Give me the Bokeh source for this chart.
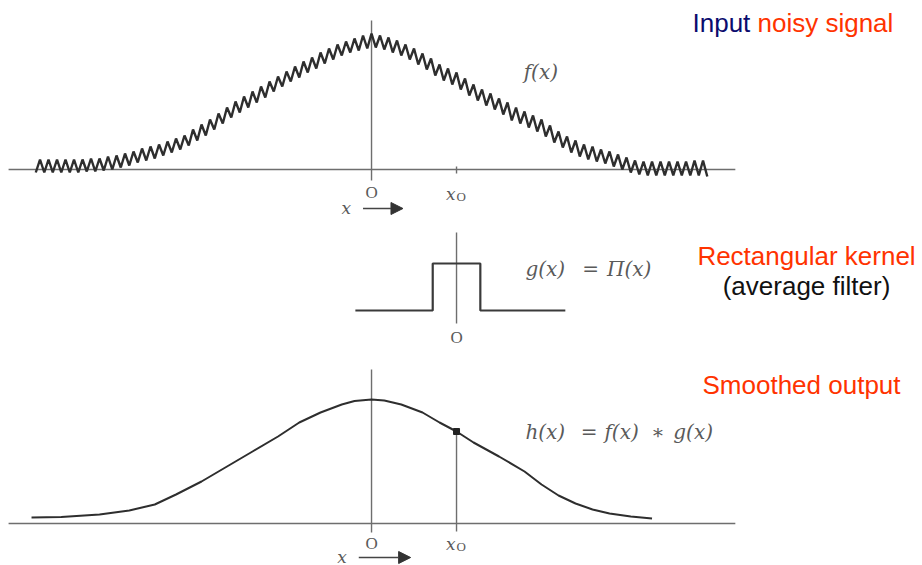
import numpy as np
from bokeh.plotting import figure
from bokeh.layouts import column
from bokeh.models import Range1d, Label, Arrow, NormalHead
from bokeh.embed import file_html
from bokeh.resources import INLINE

# ---------------- data ----------------
# Noisy input f(x): zigzag vertices (trough, peak, trough, ...) sampled evenly in x
f_x_start, f_x_end = -3.95, 3.95
f_noisy = [
    -3, 10, -3, 10, -3, 10, -3, 10, -3, 10, -3, 10, -2, 11, -2, 11, -1, 13, 0, 14,
    2, 16, 4, 18, 7, 21, 9, 23, 11, 25, 14, 28, 17, 31, 20, 34, 24, 40, 29, 45,
    34, 50, 40, 56, 46, 62, 52, 68, 57, 73, 62, 78, 67, 83, 72, 88, 78, 93, 83, 98,
    88, 103, 92, 108, 97, 112, 101, 117, 106, 121, 110, 125, 114, 128, 117, 131, 119, 134, 121, 136,
    122, 134, 120, 132, 117, 129, 114, 125, 110, 121, 105, 116, 100, 111, 94, 105, 89, 101, 85, 97,
    80, 91, 74, 85, 69, 80, 64, 76, 60, 71, 55, 67, 49, 62, 46, 58, 42, 54, 38, 50,
    33, 44, 27, 38, 22, 33, 17, 29, 13, 25, 10, 23, 8, 20, 6, 18, 3, 15, 0, 12,
    -3, 9, -5, 8, -6, 8, -6, 8, -6, 8, -6, 8, -6, 8, -6, 9, -6, 9, -7,
]

# Rectangular kernel g(x) = Pi(x), drawn with its flat tails
g_x = [-1.19, -0.28, -0.28, 0.28, 0.28, 1.28]
g_y = [0, 0, 47, 47, 0, 0]

# Smoothed output h(x) = f(x) * g(x)
h_x = [-4.0, -3.65, -3.2, -2.85, -2.55, -2.3, -2.0, -1.7, -1.4, -1.1,
       -0.85, -0.6, -0.35, -0.2, 0.0, 0.15, 0.35, 0.6, 0.8, 1.0,
       1.2, 1.5, 1.8, 2.0, 2.2, 2.4, 2.6, 2.8, 3.05, 3.3]
h_y = [6, 6.5, 9, 13, 19, 29, 42, 57, 72, 87,
       101, 111, 119, 122.5, 124, 123, 119, 111, 101, 92,
       81, 67, 52, 39, 28, 20, 14, 10, 7, 5]

x0 = 1.0
axis_extent = (-4.27, 4.28)
kernel_axis = (-13, 78)

# ---------------- styling ----------------
CURVE = "#2e2e2e"
AXIS = "#6e6e6e"
MATH = "#5a5a5a"
NAVY = "#0c0c6e"
RED = "#ff3300"
SANS = "Liberation Sans"
SERIF = "Liberation Serif"
MATHFONT = "DejaVu Serif"

W = 922
x_main = Range1d(-4.365, 6.482)
x_kernel = Range1d(-5.365, 5.482)


def panel(height, xr, yr):
    p = figure(width=W, height=height, x_range=xr, y_range=yr,
               output_backend="svg", toolbar_location=None,
               x_axis_location=None, y_axis_location=None,
               min_border=0, outline_line_color=None,
               background_fill_color="white", border_fill_color="white")
    p.min_border_left = p.min_border_right = 0
    p.min_border_top = p.min_border_bottom = 0
    p.grid.visible = False
    return p


def label(p, x, y, text, size, color, font, style="normal", align="left",
          units="data"):
    p.add_layout(Label(x=x, y=y, x_units=units, y_units=units, text=text,
                       text_font_size=size, text_color=color, text_font=font,
                       text_font_style=style, text_align=align,
                       text_baseline="middle"))


def formula(p, y, pieces):
    # typeset a formula as spaced tokens: (x position, token)
    for x, tok in pieces:
        style = "normal" if tok in ("=", "∗") else "italic"
        label(p, x, y, tok, "20px", MATH, MATHFONT, style)


def x0_label(p, y):
    label(p, x0 - 0.01, y, "x", "17px", MATH, MATHFONT, "italic", align="right")
    label(p, x0 + 0.0, y - 3, "O", "13px", MATH, SERIF, align="left")


def x_arrow(p, xs, xe, y):
    label(p, xs - 0.14, y + 1, "x", "17px", MATH, MATHFONT, "italic", align="right")
    p.add_layout(Arrow(end=NormalHead(size=12, fill_color="#333", line_color="#333"),
                       x_start=xs, y_start=y, x_end=xe, y_end=y,
                       line_color="#444", line_width=1.3))


# ---------------- panel 1: noisy input ----------------
p1 = panel(220, x_main, Range1d(-51, 169))
p1.line(list(axis_extent), [0, 0], line_color=AXIS, line_width=1.4)
p1.line([0, 0], [-11, 149], line_color=AXIS, line_width=1.4)
p1.line([x0, x0], [-4, 3], line_color=AXIS, line_width=1.4)
f_x = np.linspace(f_x_start, f_x_end, len(f_noisy))
p1.line(f_x, f_noisy, line_color=CURVE, line_width=2.4)
label(p1, 0, -22.5, "O", "17px", MATH, SERIF, align="center")
x0_label(p1, -24)
x_arrow(p1, -0.1, 0.37, -39)
label(p1, 1.79, 98, "f(x)", "20px", MATH, MATHFONT, "italic")
label(p1, 692, 198, "Input", "26px", NAVY, SANS, units="screen")
label(p1, 757, 198, "noisy signal", "26px", RED, SANS, units="screen")

# ---------------- panel 2: rectangular kernel ----------------
p2 = panel(135, x_kernel, Range1d(-45, 90))
p2.line([0, 0], list(kernel_axis), line_color=AXIS, line_width=1.4)
p2.line(g_x, g_y, line_color="#3a3a3a", line_width=2.2)
label(p2, 0, -26.5, "O", "17px", MATH, SERIF, align="center")
formula(p2, 42, [(0.81, "g(x)"), (1.48, "="), (1.77, "Π(x)")])
label(p2, 806, 100, "Rectangular kernel", "26px", RED, SANS, align="center", units="screen")
label(p2, 806, 70, "(average filter)", "26px", "#111111", SANS, align="center", units="screen")

# ---------------- panel 3: smoothed output ----------------
p3 = panel(210, x_main, Range1d(-42, 168))
h_at_x0 = h_y[h_x.index(x0)]
p3.line(list(axis_extent), [0, 0], line_color=AXIS, line_width=1.4)
p3.line([0, 0], [-9, 154], line_color=AXIS, line_width=1.4)
p3.line([x0, x0], [-8, h_at_x0], line_color=AXIS, line_width=1.4)
p3.line(h_x, h_y, line_color=CURVE, line_width=2.0)
p3.scatter([x0], [h_at_x0], size=6, marker="square", fill_color="#222", line_color="#222")
label(p3, 0, -19.5, "O", "17px", MATH, SERIF, align="center")
x0_label(p3, -20)
x_arrow(p3, -0.15, 0.46, -34)
formula(p3, 92, [(1.81, "h(x)"), (2.46, "="), (2.74, "f(x)"), (3.29, "∗"), (3.55, "g(x)")])
label(p3, 702, 181, "Smoothed output", "26px", RED, SANS, units="screen")

layout = column(p1, p2, p3, spacing=0)
open("out.html", "w").write(file_html(layout, INLINE))
